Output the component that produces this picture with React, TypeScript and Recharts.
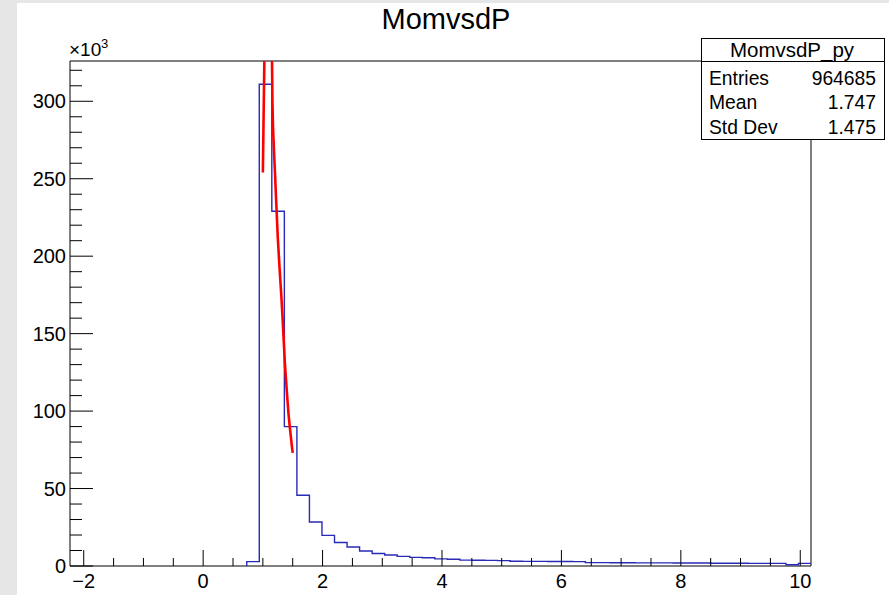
import React from 'react';
import { ComposedChart, Line, XAxis, YAxis, ReferenceArea } from 'recharts';

// Histogram MomvsdP_py: lower bin edges (only non-empty bins) and counts
const binLowEdges: number[] = [
  0.73, 0.94, 1.15, 1.36, 1.57, 1.78, 1.99, 2.2, 2.41, 2.62, 2.83, 3.04, 3.25, 3.46, 3.67,
  3.88, 4.09, 4.3, 4.51, 4.72, 4.93, 5.14, 5.35, 5.56, 5.77, 5.98, 6.19, 6.4, 6.61, 6.82,
  7.03, 7.24, 7.45, 7.66, 7.87, 8.08, 8.29, 8.5, 8.71, 8.92, 9.13, 9.34, 9.55, 9.76, 9.97,
];
const binUpperEdge = 10.18;
const binCounts: number[] = [
  2800, 311000, 229000, 90000, 45700, 28400, 19800, 15200, 12300, 9700, 8100, 7100, 6200, 5600, 5300,
  4600, 4400, 3800, 3700, 3600, 3500, 3100, 3000, 3000, 2900, 2900, 2800, 2200, 2200, 2100,
  2100, 2000, 2000, 2000, 1900, 1900, 1900, 1800, 1800, 1800, 1700, 1700, 1700, 800, 1700,
];

const fitX: number[] = [
  1.0, 1.01, 1.02, 1.03, 1.05, 1.07, 1.09, 1.11, 1.13, 1.15, 1.155, 1.16, 1.17, 1.19, 1.205,
  1.22, 1.25, 1.28, 1.31, 1.33, 1.35, 1.37, 1.39, 1.41, 1.43, 1.45, 1.47, 1.49, 1.5,
];
const fitY: number[] = [
  254000, 283000, 312000, 340000, 390000, 420000, 425000, 410000, 380000, 335000, 320000, 300000, 283000, 265000, 252000,
  238000, 212000, 192000, 174000, 160000, 145000, 130000, 119000, 108000, 98000, 90000, 83000, 76000, 73000,
];

const xDomain: [number, number] = [-2.23, 10.18];
const yDomain: [number, number] = [0, 326000];
const xTicks: number[] = [
  -2, -1.5, -1, -0.5, 0, 0.5, 1, 1.5, 2, 2.5, 3, 3.5, 4, 4.5, 5, 5.5, 6, 6.5, 7, 7.5, 8, 8.5, 9, 9.5, 10,
];
const xMajorTicks: number[] = [-2, 0, 2, 4, 6, 8, 10];
const yTicks: number[] = [
  0, 10000, 20000, 30000, 40000, 50000, 60000, 70000, 80000, 90000, 100000, 110000, 120000, 130000,
  140000, 150000, 160000, 170000, 180000, 190000, 200000, 210000, 220000, 230000, 240000, 250000,
  260000, 270000, 280000, 290000, 300000, 310000, 320000,
];
const yMajorTicks: number[] = [0, 50000, 100000, 150000, 200000, 250000, 300000];

const chartTitle = 'MomvsdP';
const statsTitle = 'MomvsdP_py';
const statsLabels: string[] = ['Entries', 'Mean', 'Std Dev'];
const statsValues: string[] = ['964685', '1.747', '1.475'];

const FONT = '"Liberation Sans", Arial, Helvetica, sans-serif';
const W = 889;
const H = 595;

const histData = [
  { x: binLowEdges[0], y: 0 },
  ...binLowEdges.map((x, i) => ({ x, y: binCounts[i] })),
  { x: binUpperEdge, y: binCounts[binCounts.length - 1] },
];
const fitData = fitX.map((x, i) => ({ x, y: fitY[i] }));

const fmtX = (v: number) => (v < 0 ? '\u2212' + Math.abs(v) : String(v));

const XTick = (props: any) => {
  const { x, y, payload } = props;
  const v = payload.value as number;
  const major = xMajorTicks.includes(v);
  const len = major ? 16 : 8;
  return (
    <g>
      <line x1={x} x2={x} y1={y} y2={y - len} stroke="#000" strokeWidth={1} />
      {major && (
        <text x={x} y={y + 22} textAnchor="middle" fontSize={20} fontFamily={FONT} fill="#000">
          {fmtX(v)}
        </text>
      )}
    </g>
  );
};

const YTick = (props: any) => {
  const { x, y, payload } = props;
  const v = payload.value as number;
  const major = yMajorTicks.includes(v);
  const len = major ? 23 : 12;
  return (
    <g>
      <line x1={x} x2={x + len} y1={y} y2={y} stroke="#000" strokeWidth={1} />
      {major && (
        <text x={x - 4} y={y} dy="0.36em" textAnchor="end" fontSize={20} fontFamily={FONT} fill="#000">
          {v / 1000}
        </text>
      )}
    </g>
  );
};

export default function App() {
  return (
    <div style={{ position: 'absolute', left: 0, top: 0, width: W, height: H, background: '#ffffff', overflow: 'hidden' }}>
      <div style={{ position: 'absolute', left: 0, top: 0, width: 17, height: H, background: '#e6e6e6' }} />
      <div style={{ position: 'absolute', left: 0, top: 0, width: W, height: 3, background: '#e6e6e6' }} />
      <div style={{ position: 'absolute', left: 0, top: 0 }}>
        <ComposedChart width={W} height={H} margin={{ top: 61, right: 78, bottom: 0, left: 20 }}>
          <XAxis
            type="number"
            dataKey="x"
            domain={xDomain}
            allowDataOverflow
            ticks={xTicks}
            interval={0}
            tick={<XTick />}
            tickLine={false}
            tickSize={0}
            tickMargin={0}
            axisLine={false}
            height={29}
          />
          <YAxis
            type="number"
            dataKey="y"
            domain={yDomain}
            allowDataOverflow
            ticks={yTicks}
            interval={0}
            tick={<YTick />}
            tickLine={false}
            tickSize={0}
            tickMargin={0}
            axisLine={false}
            width={50}
          />
          <ReferenceArea
            x1={xDomain[0]}
            x2={xDomain[1]}
            y1={yDomain[0]}
            y2={yDomain[1]}
            fill="none"
            stroke="#000"
            strokeWidth={1}
            ifOverflow="visible"
          />
          <Line
            data={histData}
            dataKey="y"
            type="stepAfter"
            stroke="#2a2ab8"
            strokeWidth={1.4}
            dot={false}
            activeDot={false}
            isAnimationActive={false}
          />
          <Line
            data={fitData}
            dataKey="y"
            type="linear"
            stroke="#ff0000"
            strokeWidth={2.6}
            dot={false}
            activeDot={false}
            isAnimationActive={false}
          />
        </ComposedChart>
      </div>
      <svg width={W} height={H} style={{ position: 'absolute', left: 0, top: 0, pointerEvents: 'none' }}>
        <text x={446} y={29} textAnchor="middle" fontSize={29} fontFamily={FONT} fill="#000">
          {chartTitle}
        </text>
        <text x={69} y={56} fontSize={19} fontFamily={FONT} fill="#000">
          {'\u00d710'}
        </text>
        <text x={101} y={48} fontSize={13} fontFamily={FONT} fill="#000">
          3
        </text>
        <rect x={701.5} y={38.5} width={183} height={101} fill="#ffffff" stroke="#000" strokeWidth={1} />
        <line x1={701.5} x2={884.5} y1={61.5} y2={61.5} stroke="#000" strokeWidth={1} />
        <text x={792} y={57} textAnchor="middle" fontSize={20.5} fontFamily={FONT} fill="#000">
          {statsTitle}
        </text>
        {statsLabels.map((lab, i) => (
          <g key={lab}>
            <text x={709} y={84.5 + i * 24.5} fontSize={19.3} fontFamily={FONT} fill="#000">
              {lab}
            </text>
            <text x={876} y={84.5 + i * 24.5} textAnchor="end" fontSize={19.3} fontFamily={FONT} fill="#000">
              {statsValues[i]}
            </text>
          </g>
        ))}
      </svg>
    </div>
  );
}
